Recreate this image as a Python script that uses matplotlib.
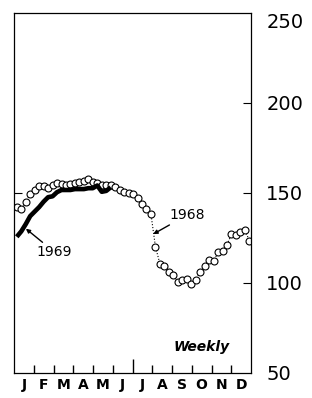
import matplotlib

matplotlib.use("Agg")
import matplotlib.pyplot as plt
import numpy as np

MONTHS = ["J", "F", "M", "A", "M", "J", "J", "A", "S", "O", "N", "D"]
Y_TICKS = [50, 100, 150, 200, 250]

# weekly values
VALUES_1968 = [142, 141, 145, 149, 151.5, 153.5, 153.5, 152.5, 154, 155.5,
               155, 154.5, 155, 155.5, 156, 156.5, 157.5, 156, 155.5, 154.5,
               154.5, 154, 153, 151.5, 150.5, 150, 149.5, 147, 143.5, 141,
               138, 120, 110.5, 109, 106, 104, 100.2, 101.5, 102, 99,
               101.5, 106, 109, 112.7, 111.8, 117, 117.8, 121, 127, 126.4,
               128.2, 129, 123.4]
VALUES_1969 = [125.5, 128.5, 132.5, 137, 139.5, 142, 145, 147.5, 148, 150.3,
               151.5, 151.5, 151.5, 152, 152, 152, 152.5, 152.5, 154, 150.5,
               151, 153]

# week positions in months (week 1 centred a little after Jan 1)
WEEK_STEP = 0.2265
FIRST_WEEK = 0.14

fig = plt.figure(figsize=(3.12, 3.98), dpi=100)
ax = fig.add_axes([0.0449, 0.0636, 0.7596, 0.9045])

x68 = FIRST_WEEK + WEEK_STEP * np.arange(len(VALUES_1968))
x69 = FIRST_WEEK + WEEK_STEP * np.arange(len(VALUES_1969))

ax.plot(x68, VALUES_1968, linestyle=":", color="black", linewidth=0.8,
        marker="o", markersize=5, markerfacecolor="white",
        markeredgecolor="black", markeredgewidth=0.8, zorder=2)
ax.plot(x69, VALUES_1969, color="black", linewidth=3.3, solid_capstyle="butt",
        zorder=3)

ax.set_xlim(0, 12)
ax.set_ylim(50, 250)

# y axis: labels on the right
ax.yaxis.tick_right()
ax.set_yticks(Y_TICKS)
ax.set_yticklabels([str(v) for v in Y_TICKS], fontsize=14)
ax.tick_params(axis="y", which="major", direction="in", length=6, width=0.8,
               left=True, right=True, pad=11)
for tick, v in zip(ax.yaxis.get_major_ticks(), Y_TICKS):
    if v != 150:
        tick.tick1line.set_visible(False)
    if v in (50, 250):
        tick.tick2line.set_visible(False)
ax.get_yticklabels()[-1].set_va("top")

# x axis: month boundaries as short ticks, July 1 as a long one
ax.set_xticks([1, 2, 3, 4, 5, 7, 8, 9, 10, 11])
ax.tick_params(axis="x", which="major", direction="in", length=6, width=1,
               bottom=True, top=False, labelbottom=False)
ax.set_xticks([6], minor=True)
ax.tick_params(axis="x", which="minor", direction="in", length=10, width=1,
               bottom=True, top=False, labelbottom=False)
for i, m in enumerate(MONTHS):
    ax.text(i + 0.5, -0.035, m, transform=ax.get_xaxis_transform(),
            fontsize=10, fontweight="bold", ha="center", va="center")

for spine in ax.spines.values():
    spine.set_linewidth(0.9)

ax.annotate("1969", xy=(0.6, 130), xytext=(1.15, 117),
            fontsize=10, va="center", ha="left",
            arrowprops=dict(arrowstyle="-|>", color="black", lw=1,
                            mutation_scale=6, shrinkA=0, shrinkB=0))
ax.annotate("1968", xy=(7.05, 127), xytext=(7.85, 137.5),
            fontsize=10, va="center", ha="left",
            arrowprops=dict(arrowstyle="-|>", color="black", lw=1,
                            mutation_scale=6, shrinkA=0, shrinkB=0))
ax.text(8.1, 64.5, "Weekly", fontsize=10, fontweight="bold",
        fontstyle="italic", va="center", ha="left")

fig.savefig("out.png", dpi=100)
plt.close(fig)
